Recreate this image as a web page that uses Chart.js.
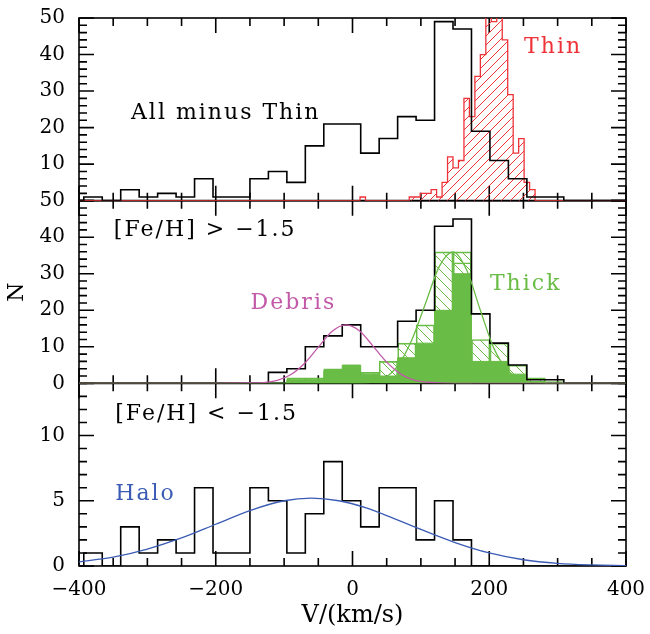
<!DOCTYPE html>
<html>
<head>
<meta charset="utf-8">
<title>Velocity distributions</title>
<script src="https://cdn.jsdelivr.net/npm/chart.js@4.4.1/dist/chart.umd.min.js"></script>
<style>
  html, body { margin: 0; padding: 0; background: #fff; }
  canvas { display: block; }
</style>
</head>
<body>
<canvas id="velocity" width="650" height="634"></canvas>
<script>
// black histograms share 27 km/s bins starting at -393
const binStart = -393;
const binWidth = 27;
const allMinusThin = [1, 0, 3, 1, 2, 1, 6, 1, 1, 6, 8, 5, 15, 21, 21, 13, 17, 23, 22, 49, 47, 19, 11, 6, 1, 1];
const metalRich = [0, 0, 0, 0, 0, 0, 0, 0, 0, 0, 3, 4, 10, 13, 16, 10, 10, 17, 20, 43, 45, 19, 11, 5, 1, 1];
const metalPoor = [1, 0, 3, 1, 2, 1, 6, 1, 1, 6, 5, 1, 4, 8, 5, 3, 6, 6, 2, 5, 2, 0, 0, 0, 0, 0];
const thickFilled = [0, 0, 0, 0, 0, 0, 0, 0, 0, 0, 0, 1, 1, 3.5, 5, 2.5, 2, 7, 11, 20, 30, 6, 6, 2.5, 0.5, 0];
const thickHatched = [0, 0, 0, 0, 0, 0, 0, 0, 0, 0, 0, 1.5, 1.5, 4, 4, 3, 6, 11, 16, 36, 36, 12, 11, 5, 1.5, 0.5];
const thickInner = [0, 0, 0, 0, 0, 0, 0, 0, 0, 0, 0, 0, 0, 0, 0, 0, 0, 0, 0, 0, 33, 0, 0, 0, 0, 0];

// thin disc, finer 8 km/s bins
const thinStart = 11;
const thinWidth = 8;
const thinCounts = [1, 0, 0, 0, 0, 0, 0, 0, 0, 1, 1, 2, 2, 3, 1, 5, 12, 9, 11, 28, 23, 34, 40, 52, 49, 55, 44, 29, 13, 17, 5, 3];

// fitted curves
const debrisV = [-400, -210, -150, -130, -110, -90, -70, -50, -30, -10, 10, 30, 50, 70, 90, 110, 130, 150, 400];
const debrisN = [0, 0, 0.1, 0.2, 0.8, 2.4, 5.5, 9.9, 14.2, 16, 14.4, 10.2, 5.8, 2.6, 0.9, 0.3, 0.1, 0, 0];
const thickV = [-400, 0, 27, 47, 67, 87, 107, 127, 147, 167, 187, 207, 227, 247, 267, 300, 400];
const thickN = [0, 0, 0.3, 1.5, 5, 12, 22, 32, 36, 31, 20, 9.5, 3.5, 1, 0.2, 0, 0];
const haloV = [-400, -350, -300, -250, -200, -150, -100, -60, -20, 20, 60, 100, 150, 200, 250, 300, 350, 400];
const haloN = [0.32, 0.68, 1.3, 2.15, 3.2, 4.25, 5.0, 5.2, 5.0, 4.45, 3.65, 2.8, 1.8, 1.0, 0.48, 0.2, 0.08, 0.03];

const RED = '#ee3338';
const GREEN = '#69bc45';
const MAGENTA = '#c25aa9';
const BLUE = '#3b5cb4';
const SERIF = "'DejaVu Serif', serif";

const notes = [
  { text: 'All minus Thin', x: -324, y: 24, axis: 'yTop', color: '#000' },
  { text: 'Thin', x: 251, y: 42, axis: 'yTop', color: RED },
  { text: '[Fe/H] > \u22121.5', x: -349, y: 42, axis: 'yMid', color: '#000' },
  { text: 'Debris', x: -149, y: 22, axis: 'yMid', color: MAGENTA },
  { text: 'Thick', x: 201, y: 27, axis: 'yMid', color: GREEN },
  { text: '[Fe/H] < \u22121.5', x: -347, y: 11.6, axis: 'yBot', color: '#000' },
  { text: 'Halo', x: -347, y: 5.5, axis: 'yBot', color: BLUE }
];

function steps (start, width, counts) {
  const pts = [{ x: -400, y: 0 }];
  counts.forEach((c, i) => pts.push({ x: start + i * width, y: c }));
  pts.push({ x: start + counts.length * width, y: 0 });
  pts.push({ x: 400, y: 0 });
  return pts;
}

function curve (xs, ys) {
  return xs.map((x, i) => ({ x, y: ys[i] }));
}

function bars (start, width, counts) {
  return counts.map((c, i) => ({ x: start + (i + 0.5) * width, y: c }));
}

function hatch (color, size, rising) {
  const tile = document.createElement('canvas');
  tile.width = tile.height = size;
  const g = tile.getContext('2d');
  g.strokeStyle = color;
  g.lineWidth = 1;
  g.beginPath();
  for (const o of [-size, 0, size]) {
    if (rising) {
      g.moveTo(o, size);
      g.lineTo(o + size, 0);
    } else {
      g.moveTo(o, 0);
      g.lineTo(o + size, size);
    }
  }
  g.stroke();
  return g.createPattern(tile, 'repeat');
}

// frame and inward ticks for each panel, drawn under the data
const panels = [
  { id: 'yTop', minor: 2, major: 10, max: 50 },
  { id: 'yMid', minor: 2, major: 10, max: 50 },
  { id: 'yBot', minor: 1, major: 5, max: 14 }
];

const framePlugin = {
  id: 'frames',
  beforeDatasetsDraw (chart) {
    const { ctx, chartArea: { left, right } } = chart;
    const xs = chart.scales.x;
    ctx.save();
    ctx.strokeStyle = '#000';
    ctx.lineWidth = 1.6;
    panels.forEach(p => {
      const s = chart.scales[p.id];
      ctx.strokeRect(left, s.top, right - left, s.bottom - s.top);
      ctx.beginPath();
      for (let v = -400; v <= 400; v += 50) {
        const px = xs.getPixelForValue(v);
        const len = v % 200 === 0 ? 15 : 8;
        ctx.moveTo(px, s.top);
        ctx.lineTo(px, s.top + len);
        ctx.moveTo(px, s.bottom);
        ctx.lineTo(px, s.bottom - len);
      }
      for (let v = 0; v <= p.max; v += p.minor) {
        const py = s.getPixelForValue(v);
        const len = v % p.major === 0 ? 15 : 8;
        ctx.moveTo(left, py);
        ctx.lineTo(left + len, py);
        ctx.moveTo(right, py);
        ctx.lineTo(right - len, py);
      }
      ctx.stroke();
    });
    ctx.restore();
  },
  afterDatasetsDraw (chart) {
    const { ctx } = chart;
    ctx.save();
    ctx.font = '22px ' + SERIF;
    ctx.textBaseline = 'middle';
    ctx.textAlign = 'left';
    ctx.letterSpacing = '2px';
    notes.forEach(n => {
      ctx.fillStyle = n.color;
      ctx.fillText(n.text, chart.scales.x.getPixelForValue(n.x), chart.scales[n.axis].getPixelForValue(n.y));
    });
    ctx.restore();
  }
};

const stepLine = { type: 'line', stepped: 'before', pointRadius: 0, borderWidth: 1.6, fill: false };
const smooth = { type: 'line', pointRadius: 0, borderWidth: 1.3, fill: false, cubicInterpolationMode: 'monotone' };
const barBox = { type: 'bar', grouped: false, barPercentage: 1, categoryPercentage: 1, borderSkipped: false, borderWidth: 1, borderColor: GREEN, yAxisID: 'yMid' };

const panelAxis = (weight, max, step, labelOf, extra) => Object.assign({
  type: 'linear',
  position: 'left',
  stack: 'panels',
  stackWeight: 1,
  weight,
  min: 0,
  max,
  grid: { display: false, drawTicks: false },
  border: { display: false },
  ticks: { stepSize: step, autoSkip: false, padding: 14, color: '#000', font: { family: SERIF, size: 20 }, callback: labelOf },
  afterFit: s => {
    s.width = 79;
    s.paddingTop = 0;
    s.paddingBottom = 0;
  }
}, extra);

Chart.defaults.font.family = SERIF;
Chart.defaults.color = '#000';

// eslint-disable-next-line no-undef
const velocityChart = new Chart('velocity', {
  type: 'line',
  data: {
    datasets: [
      { ...smooth, label: 'Debris', data: curve(debrisV, debrisN), yAxisID: 'yMid', borderColor: MAGENTA, order: 0 },
      { ...smooth, label: 'Thick', data: curve(thickV, thickN), yAxisID: 'yMid', borderColor: GREEN, order: 0 },
      { ...smooth, label: 'Halo', data: curve(haloV, haloN), yAxisID: 'yBot', borderColor: BLUE, order: 0 },
      { ...stepLine, label: 'All minus Thin', data: steps(binStart, binWidth, allMinusThin), yAxisID: 'yTop', borderColor: '#000', order: 1 },
      { ...stepLine, label: '[Fe/H] > -1.5', data: steps(binStart, binWidth, metalRich), yAxisID: 'yMid', borderColor: '#000', order: 1 },
      { ...stepLine, label: '[Fe/H] < -1.5', data: steps(binStart, binWidth, metalPoor), yAxisID: 'yBot', borderColor: '#000', order: 1 },
      { ...stepLine, label: 'Thick members', data: steps(binStart, binWidth, thickFilled), yAxisID: 'yMid', borderColor: GREEN, backgroundColor: GREEN, fill: 'origin', borderWidth: 1, order: 3 },
      { ...barBox, label: 'Thick inner', data: bars(binStart, binWidth, thickInner), backgroundColor: 'rgba(0,0,0,0)', order: 4 },
      { ...stepLine, label: 'Thin', data: steps(thinStart, thinWidth, thinCounts), yAxisID: 'yTop', borderColor: RED, backgroundColor: hatch(RED, 9, true), fill: 'origin', borderWidth: 1.3, order: 5 },
      { ...barBox, label: 'Thick model', data: bars(binStart, binWidth, thickHatched), backgroundColor: hatch(GREEN, 10, false), order: 6 }
    ]
  },
  options: {
    responsive: false,
    animation: false,
    layout: { padding: { top: 18, right: 24, left: 0, bottom: 0 } },
    plugins: { legend: { display: false }, tooltip: { enabled: false } },
    scales: {
      x: {
        type: 'linear',
        min: -400,
        max: 400,
        offset: false,
        grid: { display: false, drawTicks: false },
        border: { display: false },
        ticks: {
          stepSize: 200,
          padding: 12,
          maxRotation: 0,
          autoSkip: false,
          color: '#000',
          font: { family: SERIF, size: 20 },
          callback: v => String(v).replace('-', '\u2212')
        },
        title: { display: true, text: 'V/(km/s)', color: '#000', font: { family: SERIF, size: 24 }, padding: { top: 0, bottom: 4 } },
        afterFit: s => {
          s.height = 68;
          s.paddingLeft = 0;
          s.paddingRight = 0;
        }
      },
      yBot: panelAxis(1, 14, 5, v => (v % 5 === 0 && v <= 10 ? v : ''), {}),
      yMid: panelAxis(2, 50, 10, v => v, { title: { display: true, text: 'N', color: '#000', font: { family: SERIF, size: 22 } } }),
      yTop: panelAxis(3, 50, 10, v => (v === 0 ? '' : v), {})
    }
  },
  plugins: [framePlugin]
});
</script>
</body>
</html>
